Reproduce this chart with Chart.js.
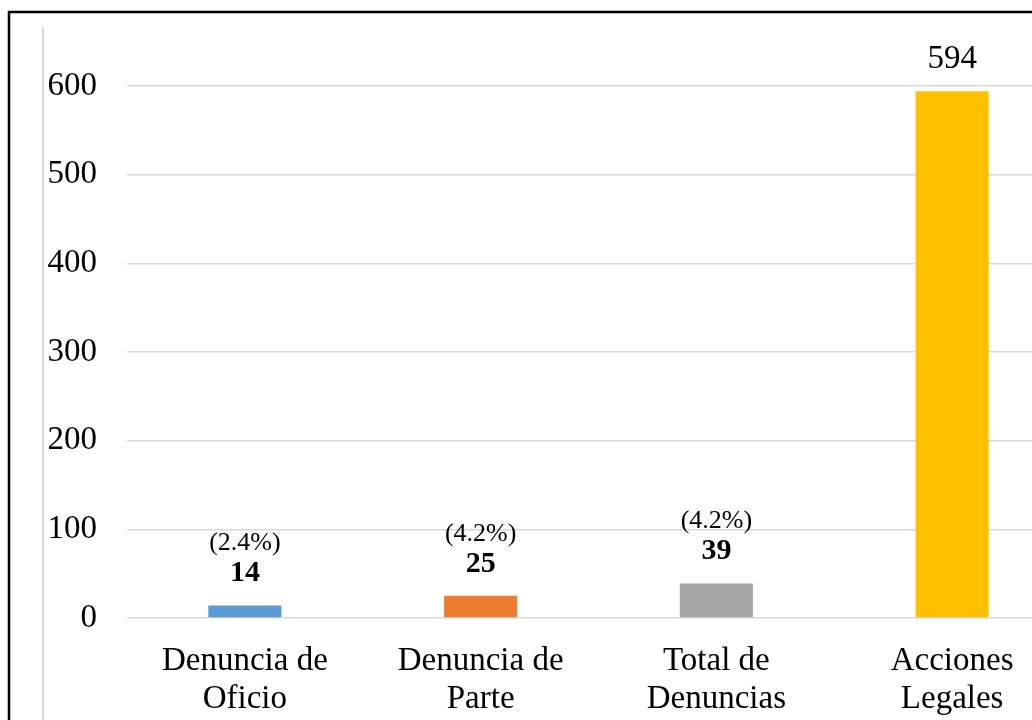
<!DOCTYPE html>
<html>
<head>
<meta charset="utf-8">
<script src="https://cdn.jsdelivr.net/npm/chart.js@4.4.1/dist/chart.umd.min.js"></script>
<style>
    html, body { margin: 0; padding: 0; background: #fff; }
    .wrap { position: relative; width: 1032px; height: 720px; overflow: hidden; }
    #myBarChart { position: absolute; left: 0; top: 0; }
</style>
</head>
<body>
<div class="wrap">
    <canvas id="myBarChart" width="1070" height="720"></canvas>
</div>
<script>
// Chart data
const categories = [
    ['Denuncia de', 'Oficio'],
    ['Denuncia de', 'Parte'],
    ['Total de', 'Denuncias'],
    ['Acciones', 'Legales']
];
const values = [14, 25, 39, 594];
const pctLabels = ['(2.4%)', '(4.2%)', '(4.2%)', ''];
const boldValue = [true, true, true, false];
const barColors = ['#5B9BD5', '#ED7D31', '#A5A5A5', '#FFC000'];

const serif = '"Liberation Serif", "Times New Roman", serif';

// Frame lines + labels above bars
const decorPlugin = {
    id: 'decor',
    beforeDraw(chart) {
        const ctx = chart.ctx;
        ctx.save();
        ctx.fillStyle = '#fff';
        ctx.fillRect(0, 0, chart.width, chart.height);
        // light vertical line on the left
        ctx.strokeStyle = '#d9d9d9';
        ctx.lineWidth = 2;
        ctx.beginPath();
        ctx.moveTo(43, 27);
        ctx.lineTo(43, chart.height);
        ctx.stroke();
        // black outer border
        ctx.strokeStyle = '#000';
        ctx.lineWidth = 2.5;
        ctx.beginPath();
        ctx.moveTo(9, chart.height);
        ctx.lineTo(9, 12);
        ctx.lineTo(chart.width, 12);
        ctx.stroke();
        ctx.restore();
    },
    afterDatasetsDraw(chart) {
        const ctx = chart.ctx;
        const meta = chart.getDatasetMeta(0);
        ctx.save();
        ctx.fillStyle = '#000';
        ctx.textAlign = 'center';
        ctx.textBaseline = 'middle';
        meta.data.forEach(function(bar, i) {
            ctx.font = (boldValue[i] ? 'bold 30px ' : '33px ') + serif;
            ctx.fillText(String(values[i]), bar.x, bar.y - 32);
            if (pctLabels[i]) {
                ctx.font = '26px ' + serif;
                ctx.fillText(pctLabels[i], bar.x, bar.y - 62);
            }
        });
        ctx.restore();
    }
};

const ctxBar = document.getElementById('myBarChart').getContext('2d');
const myBarChart = new Chart(ctxBar, {
    type: 'bar',
    data: {
        labels: categories,
        datasets: [{
            data: values,
            backgroundColor: barColors,
            borderWidth: 0,
            categoryPercentage: 1,
            barPercentage: 0.31
        }]
    },
    options: {
        responsive: false,
        animation: false,
        devicePixelRatio: 1,
        layout: { padding: { top: 86, left: 0, right: 0, bottom: 0 } },
        plugins: {
            legend: { display: false },
            tooltip: { enabled: false }
        },
        scales: {
            x: {
                grid: { display: false, drawTicks: false },
                border: { display: false },
                ticks: {
                    color: '#000',
                    font: { family: serif, size: 33, lineHeight: 1.15 },
                    padding: 24,
                    maxRotation: 0,
                    autoSkip: false
                },
                afterFit: function(scale) { scale.height = 102; }
            },
            y: {
                min: 0,
                max: 600,
                ticks: {
                    stepSize: 100,
                    color: '#000',
                    font: { family: serif, size: 33 },
                    padding: 30
                },
                grid: { color: '#d9d9d9', lineWidth: 1.5, drawTicks: false },
                border: { display: false },
                afterFit: function(scale) { scale.width = 127; }
            }
        }
    },
    plugins: [decorPlugin]
});
</script>
</body>
</html>
